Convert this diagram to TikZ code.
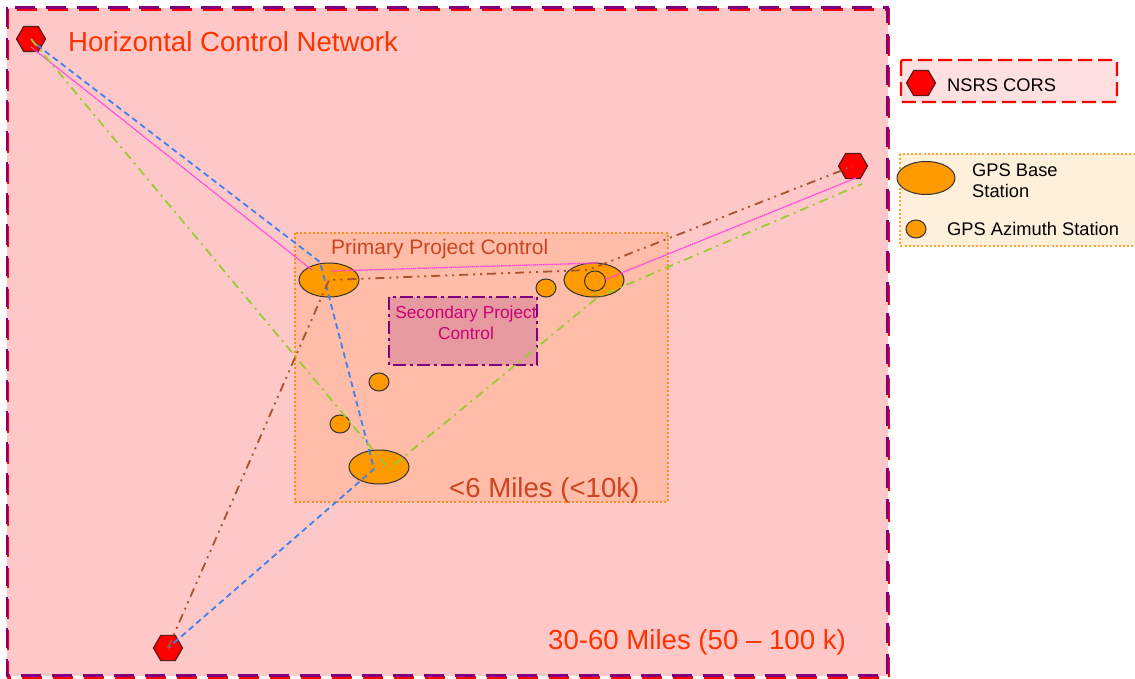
\documentclass[tikz,border=0pt]{standalone}
\usepackage{fontspec}
\setmainfont{Liberation Sans}
\usetikzlibrary{shapes.geometric}
\definecolor{netfill}{HTML}{FFC8C8}
\definecolor{nettext}{HTML}{FF3300}
\definecolor{netpurple}{HTML}{800080}
\definecolor{primfill}{HTML}{FFBCA8}
\definecolor{primedge}{HTML}{FF8C1A}
\definecolor{primtext}{HTML}{CC4420}
\definecolor{secfill}{HTML}{E69AA0}
\definecolor{sectext}{HTML}{CC0077}
\definecolor{gpsorange}{HTML}{FF9900}
\definecolor{corsred}{HTML}{FF0000}
\definecolor{corsedge}{HTML}{5A1A1A}
\definecolor{legfill}{HTML}{FFE0E0}
\definecolor{legfillb}{HTML}{FFF0DC}
\definecolor{legdot}{HTML}{FFA52A}
\definecolor{lineblue}{HTML}{3C82F0}
\definecolor{linepink}{HTML}{FF44DD}
\definecolor{linegreen}{HTML}{99CC33}
\definecolor{linebrown}{HTML}{A8532D}
\begin{document}
\begin{tikzpicture}[x=1pt, y=-1pt,
  cors/.style={regular polygon, regular polygon sides=6, minimum size=29pt, inner sep=0pt, draw=corsedge, line width=1.2pt, fill=corsred},
  base/.style={ellipse, minimum width=60pt, minimum height=34pt, inner sep=0pt, draw=black!80, line width=1pt, fill=gpsorange},
  azi/.style={ellipse, minimum width=20pt, minimum height=18pt, inner sep=0pt, draw=black!80, line width=1pt, fill=gpsorange},
  bigtext/.style={anchor=west, inner sep=0pt, font=\fontsize{27.6}{30}\selectfont},
  legtext/.style={anchor=west, inner sep=0pt, font=\fontsize{18.3}{21}\selectfont, align=left},
  blueline/.style={lineblue, line width=1.8pt, dash pattern=on 6pt off 4pt},
  pinkline/.style={linepink, line width=1.3pt, dash pattern=on 1.5pt off 0.6pt},
  greenline/.style={linegreen, line width=1.8pt, dash pattern=on 9pt off 5pt on 2pt off 5pt},
  brownline/.style={linebrown, line width=1.8pt, dash pattern=on 9pt off 5pt on 2pt off 5pt on 2pt off 5pt}]
\useasboundingbox (0,0) rectangle (1135,679);
% horizontal control network
\fill[netfill] (7,8) rectangle (888,676);
\draw[red, line width=2.2pt, dash pattern=on 20pt off 11pt] (8,9.5) rectangle (889,677.5);
\draw[netpurple, line width=2.2pt, dash pattern=on 20pt off 11pt] (7,7.5) rectangle (887.5,675.5);
\node[bigtext, text=nettext] (net_title) at (68,42) {Horizontal Control Network};
\node[bigtext, text=nettext] (net_range) at (548,642) {30-60 Miles (50 -- 100 k)};
% primary project control
\fill[primfill] (295,233) rectangle (668,502);
\draw[primedge, line width=2.2pt, dash pattern=on 2pt off 2.2pt] (295,233) rectangle (668,502);
\node[anchor=west, inner sep=0pt, text=primtext, font=\fontsize{21}{24}\selectfont] (prim_title) at (331,249) {Primary Project Control};
\node[bigtext, text=primtext] (prim_range) at (449,490) {<6 Miles (<10k)};
% secondary project control
\fill[secfill] (389,297) rectangle (537,365);
\draw[netpurple, line width=2.5pt, dash pattern=on 13pt off 4pt on 3pt off 4pt] (389,297) rectangle (537,365);
\node[inner sep=0pt, text=sectext, font=\fontsize{17.3}{21}\selectfont, align=center] (sec_title) at (466,323) {Secondary Project\\Control};
% stations
\node[base] (base_a) at (329,280) {};
\node[base] (base_b) at (594,280) {};
\node[base] (base_c) at (379,467) {};
\node[azi, minimum width=21pt, minimum height=20pt] (inner_b) at (595,281) {};
\node[azi] (azi_1) at (546,288) {};
\node[azi] (azi_2) at (379,382) {};
\node[azi] (azi_3) at (340,424) {};
\node[cors] (cors_1) at (31,39) {};
\node[cors] (cors_2) at (853,166) {};
\node[cors] (cors_3) at (168,648) {};
% bends of the baselines
\coordinate (blue_start) at (37,45);
\coordinate (blue_a) at (320,262);
\coordinate (blue_c) at (374,469);
\coordinate (pink_start) at (31,47);
\coordinate (pink_a1) at (312,270);
\coordinate (pink_a2) at (331,271);
\coordinate (pink_b1) at (598,263);
\coordinate (pink_b2) at (604,280);
\coordinate (pink_end) at (856,178);
\coordinate (green_c) at (389,469);
\coordinate (green_b) at (598,297);
\coordinate (green_end) at (862,184);
\coordinate (brown_b) at (588,270);
% baselines
\draw[blueline] (blue_start) -- (blue_a) -- (blue_c) -- (cors_3.center);
\draw[pinkline] (pink_start) -- (pink_a1);
\draw[pinkline] (pink_a2) -- (pink_b1);
\draw[pinkline] (pink_b2) -- (pink_end);
\draw[greenline] (cors_1.center) -- (green_c) -- (green_b) -- (green_end);
\draw[brownline] (cors_3.center) -- (base_a.center) -- (brown_b) -- (cors_2.center);
% legend
\draw[red, fill=legfill, line width=2.2pt, dash pattern=on 14pt off 6pt, rounded corners=2pt] (901,60) rectangle (1117,102);
\node[cors] (leg_cors) at (921,83) {};
\node[legtext] (leg_cors_text) at (947,85) {NSRS CORS};
\fill[legfillb] (900,154) rectangle (1140,246);
\draw[legdot, line width=2.2pt, dash pattern=on 2pt off 2.2pt] (900,154) rectangle (1140,246);
\node[base, minimum width=58pt, minimum height=33pt] (leg_base) at (926,178) {};
\node[legtext] (leg_base_text) at (972,181) {GPS Base\\Station};
\node[azi] (leg_azi) at (916,229) {};
\node[legtext] (leg_azi_text) at (947,229) {GPS Azimuth Station};
\end{tikzpicture}
\end{document}
